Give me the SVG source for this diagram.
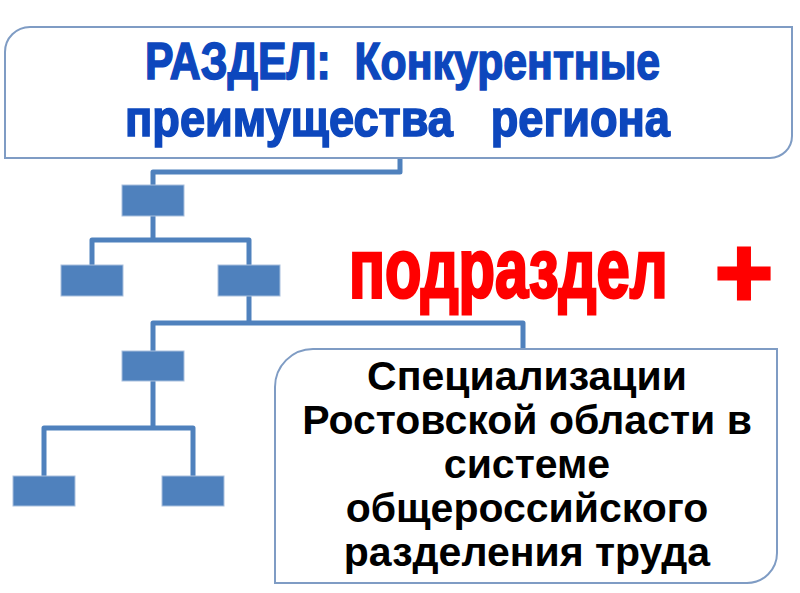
<svg xmlns="http://www.w3.org/2000/svg" width="800" height="593" viewBox="0 0 800 593">
<style>
.frame{fill:#ffffff;stroke:#7f9cc4;stroke-width:2}
.blk{fill:#4f81bd;stroke:#a9c0de;stroke-width:1}
.conn{fill:none;stroke:#4f81bd;stroke-width:5;stroke-linejoin:round}
.title{font-family:"Liberation Sans",Arial,sans-serif;font-weight:bold;fill:#0d47bd;stroke:#0d47bd;stroke-width:1.6}
.red{font-family:"Liberation Sans",Arial,sans-serif;font-weight:bold;fill:#ff0000;stroke:#ff0000;stroke-width:3}
.body{font-family:"Liberation Sans",Arial,sans-serif;font-weight:bold;font-size:41px;fill:#000000;text-anchor:middle}
</style>
<rect width="800" height="593" fill="#ffffff"/>
<g id="connectors">
<path class="conn" d="M400,158 V172 H153 V185"/>
<path class="conn" d="M153,216 V240"/>
<path class="conn" d="M92,265 V240 H249 V265"/>
<path class="conn" d="M249,296 V323"/>
<path class="conn" d="M153,351 V323 H523 V349"/>
<path class="conn" d="M153,381 V428"/>
<path class="conn" d="M44,476 V428 H193 V476"/>
</g>
<g id="section">
<path class="frame" d="M5,52 A25,25 0 0 1 30,27 H792 V136 A22,22 0 0 1 770,158 H5 Z"/>
<text class="title" xml:space="preserve" x="145" y="79" font-size="52" textLength="515" lengthAdjust="spacingAndGlyphs">РАЗДЕЛ:  Конкурентные</text>
<text class="title" xml:space="preserve" x="125" y="136" font-size="52" textLength="545" lengthAdjust="spacingAndGlyphs">преимущества   региона</text>
</g>
<g id="n1"><rect class="blk" x="122" y="185" width="62" height="31"/></g>
<g id="n2"><rect class="blk" x="61" y="265" width="62" height="31"/></g>
<g id="n3"><rect class="blk" x="218" y="265" width="62" height="31"/></g>
<g id="n4"><rect class="blk" x="122" y="351" width="62" height="30"/></g>
<g id="n5"><rect class="blk" x="13" y="476" width="62" height="30"/></g>
<g id="n6"><rect class="blk" x="162" y="476" width="62" height="30"/></g>
<g id="subsection">
<text class="red" transform="translate(349,297) scale(0.675,1)" x="0" y="0" font-size="84" textLength="472" lengthAdjust="spacingAndGlyphs">подраздел</text>
<text class="red" x="744" y="307" font-size="100" text-anchor="middle">+</text>
</g>
<g id="specialization">
<path class="frame" d="M275,387 A38,38 0 0 1 313,349 H777 V553 A30,30 0 0 1 747,583 H275 Z"/>
<text class="body" x="527" y="390">Специализации</text>
<text class="body" x="527" y="434">Ростовской области в</text>
<text class="body" x="527" y="478">системе</text>
<text class="body" x="527" y="522">общероссийского</text>
<text class="body" x="527" y="566">разделения труда</text>
</g>
</svg>
